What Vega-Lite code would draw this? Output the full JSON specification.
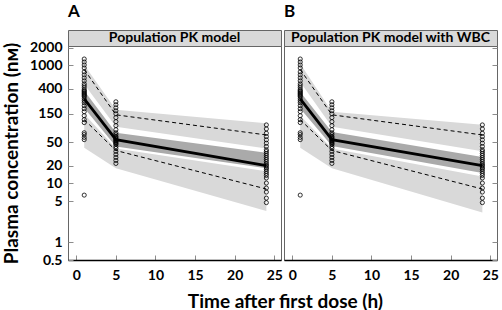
{
  "$schema": "https://vega.github.io/schema/vega-lite/v6.json",
  "padding": {"left": 2, "top": 2, "right": 0, "bottom": 0},
  "background": "#ffffff",
  "datasets": {
    "obs": [
      {"time": 1, "value": 1282}, {"time": 1, "value": 1140}, {"time": 1, "value": 1016}, {"time": 1, "value": 904},
      {"time": 1, "value": 774}, {"time": 1, "value": 689}, {"time": 1, "value": 613}, {"time": 1, "value": 546},
      {"time": 1, "value": 486}, {"time": 1, "value": 450}, {"time": 1, "value": 416}, {"time": 1, "value": 385},
      {"time": 1, "value": 370}, {"time": 1, "value": 356}, {"time": 1, "value": 342}, {"time": 1, "value": 330},
      {"time": 1, "value": 317}, {"time": 1, "value": 305}, {"time": 1, "value": 293}, {"time": 1, "value": 271},
      {"time": 1, "value": 251}, {"time": 1, "value": 232}, {"time": 1, "value": 207}, {"time": 1, "value": 184},
      {"time": 1, "value": 164}, {"time": 1, "value": 140}, {"time": 1, "value": 120}, {"time": 1, "value": 107},
      {"time": 1, "value": 72}, {"time": 1, "value": 67}, {"time": 1, "value": 60}, {"time": 1, "value": 55},
      {"time": 1, "value": 6.3},
      {"time": 5, "value": 241}, {"time": 5, "value": 215}, {"time": 5, "value": 191}, {"time": 5, "value": 170},
      {"time": 5, "value": 151}, {"time": 5, "value": 130}, {"time": 5, "value": 111}, {"time": 5, "value": 95},
      {"time": 5, "value": 81}, {"time": 5, "value": 72}, {"time": 5, "value": 67}, {"time": 5, "value": 62},
      {"time": 5, "value": 60}, {"time": 5, "value": 57}, {"time": 5, "value": 55}, {"time": 5, "value": 53},
      {"time": 5, "value": 51}, {"time": 5, "value": 49}, {"time": 5, "value": 47}, {"time": 5, "value": 45.5},
      {"time": 5, "value": 42}, {"time": 5, "value": 39}, {"time": 5, "value": 34.7}, {"time": 5, "value": 30.8},
      {"time": 5, "value": 27.4}, {"time": 5, "value": 24.4}, {"time": 5, "value": 21.7},
      {"time": 24, "value": 97.7}, {"time": 24, "value": 83.6}, {"time": 24, "value": 70.5}, {"time": 24, "value": 62},
      {"time": 24, "value": 54.6}, {"time": 24, "value": 47.9}, {"time": 24, "value": 42.1}, {"time": 24, "value": 37},
      {"time": 24, "value": 34.6}, {"time": 24, "value": 32}, {"time": 24, "value": 29.7}, {"time": 24, "value": 27.4},
      {"time": 24, "value": 25.4}, {"time": 24, "value": 23.5}, {"time": 24, "value": 21.7}, {"time": 24, "value": 20.5},
      {"time": 24, "value": 19.4}, {"time": 24, "value": 18.2}, {"time": 24, "value": 17.2}, {"time": 24, "value": 15.9},
      {"time": 24, "value": 14.7}, {"time": 24, "value": 13.6}, {"time": 24, "value": 12.3}, {"time": 24, "value": 10.1},
      {"time": 24, "value": 8.3}, {"time": 24, "value": 7.1}, {"time": 24, "value": 5.6}, {"time": 24, "value": 4.7}
    ],
    "pct": [
      {"stat": "p95", "time": 1, "value": 850}, {"stat": "p95", "time": 5, "value": 145}, {"stat": "p95", "time": 24, "value": 66},
      {"stat": "p50", "time": 1, "value": 270}, {"stat": "p50", "time": 5, "value": 55}, {"stat": "p50", "time": 24, "value": 20},
      {"stat": "p05", "time": 1, "value": 120}, {"stat": "p05", "time": 5, "value": 36}, {"stat": "p05", "time": 24, "value": 8}
    ],
    "bands": [
      {"panel": "A", "band": "upper", "time": 1, "value": 480, "hi": 1010},
      {"panel": "A", "band": "upper", "time": 5, "value": 91, "hi": 177},
      {"panel": "A", "band": "upper", "time": 24, "value": 39, "hi": 104},
      {"panel": "A", "band": "median", "time": 1, "value": 190, "hi": 370},
      {"panel": "A", "band": "median", "time": 5, "value": 42, "hi": 72},
      {"panel": "A", "band": "median", "time": 24, "value": 18, "hi": 33},
      {"panel": "A", "band": "lower", "time": 1, "value": 40, "hi": 150},
      {"panel": "A", "band": "lower", "time": 5, "value": 18, "hi": 39},
      {"panel": "A", "band": "lower", "time": 24, "value": 3.4, "hi": 16},
      {"panel": "B", "band": "upper", "time": 1, "value": 520, "hi": 1070},
      {"panel": "B", "band": "upper", "time": 5, "value": 91, "hi": 163},
      {"panel": "B", "band": "upper", "time": 24, "value": 35, "hi": 98},
      {"panel": "B", "band": "median", "time": 1, "value": 185, "hi": 355},
      {"panel": "B", "band": "median", "time": 5, "value": 43, "hi": 74},
      {"panel": "B", "band": "median", "time": 24, "value": 15, "hi": 28},
      {"panel": "B", "band": "lower", "time": 1, "value": 40, "hi": 140},
      {"panel": "B", "band": "lower", "time": 5, "value": 18, "hi": 39},
      {"panel": "B", "band": "lower", "time": 24, "value": 3.2, "hi": 13}
    ]
  },
  "title": {
    "text": "Time after first dose (h)",
    "orient": "bottom",
    "anchor": "middle",
    "fontSize": 19,
    "fontWeight": "bold",
    "font": "Lato",
    "color": "#000000",
    "offset": 10,
    "dx": 35
  },
  "spacing": 0,
  "hconcat": [
    {
      "spacing": 0,
      "bounds": "flush",
      "vconcat": [
        {
          "width": 213,
          "height": 16,
          "title": {"text": "A", "anchor": "start", "fontSize": 17, "fontWeight": "bold", "font": "Lato", "color": "#000000", "offset": 9},
          "view": {"fill": "#d9d9d9", "stroke": "#666666", "strokeWidth": 1},
          "data": {"values": [{"label": "Population PK model"}]},
          "mark": {"type": "text", "font": "Lato", "fontWeight": "bold", "fontSize": 14, "baseline": "middle", "color": "#000000"},
          "encoding": {"text": {"field": "label", "type": "nominal"}}
        },
        {
          "width": 213,
          "height": 214,
          "view": {"stroke": "#666666", "strokeWidth": 1},
          "encoding": {
            "x": {"field": "time", "type": "quantitative", "scale": {"domain": [-1.05, 25.85], "nice": false, "zero": false},
              "axis": {"values": [0, 5, 10, 15, 20, 25], "title": null, "domain": true, "domainColor": "#000000", "domainWidth": 1.5, "labelPadding": 13, "labelFlush": false}},
            "y": {"field": "value", "type": "quantitative", "stack": null, "scale": {"type": "log", "domain": [0.5, 2130], "nice": false},
              "axis": {"values": [0.5, 1, 5, 10, 20, 50, 150, 400, 1000, 2000], "format": "~g", "title": "Plasma concentration (nᴍ)", "labelPadding": 11, "titlePadding": 8}}
          },
          "layer": [
            {
              "data": {"name": "bands"},
              "transform": [{"filter": "datum.panel === 'A'"}],
              "mark": {"type": "area", "opacity": 1},
              "encoding": {
                "y2": {"field": "hi"},
                "color": {"field": "band", "type": "nominal", "scale": {"domain": ["upper", "median", "lower"], "range": ["#d9d9d9", "#aaaaaa", "#d9d9d9"]}, "legend": null}
              }
            },
            {
              "data": {"name": "pct"},
              "transform": [{"filter": "datum.stat !== 'p50'"}],
              "mark": {"type": "line", "color": "#000000", "strokeWidth": 1, "strokeDash": [4, 3]},
              "encoding": {"detail": {"field": "stat", "type": "nominal"}}
            },
            {
              "data": {"name": "pct"},
              "transform": [{"filter": "datum.stat === 'p50'"}],
              "mark": {"type": "line", "color": "#000000", "strokeWidth": 2.8},
              "encoding": {}
            },
            {
              "data": {"name": "obs"},
              "mark": {"type": "point", "shape": "circle", "filled": false, "color": "#000000", "size": 17, "strokeWidth": 0.8, "opacity": 1}
            }
          ]
        }
      ]
    },
    {
      "spacing": 0,
      "bounds": "flush",
      "vconcat": [
        {
          "width": 213,
          "height": 16,
          "title": {"text": "B", "anchor": "start", "fontSize": 17, "fontWeight": "bold", "font": "Lato", "color": "#000000", "offset": 9},
          "view": {"fill": "#d9d9d9", "stroke": "#666666", "strokeWidth": 1},
          "data": {"values": [{"label": "Population PK model with WBC"}]},
          "mark": {"type": "text", "font": "Lato", "fontWeight": "bold", "fontSize": 14, "baseline": "middle", "color": "#000000"},
          "encoding": {"text": {"field": "label", "type": "nominal"}}
        },
        {
          "width": 213,
          "height": 214,
          "view": {"stroke": "#666666", "strokeWidth": 1},
          "encoding": {
            "x": {"field": "time", "type": "quantitative", "scale": {"domain": [-1.05, 25.85], "nice": false, "zero": false},
              "axis": {"values": [0, 5, 10, 15, 20, 25], "title": null, "domain": true, "domainColor": "#000000", "domainWidth": 1.5, "labelPadding": 13, "labelFlush": false}},
            "y": {"field": "value", "type": "quantitative", "stack": null, "scale": {"type": "log", "domain": [0.5, 2130], "nice": false},
              "axis": {"orient": "right", "values": [0.5, 1, 5, 10, 20, 50, 150, 400, 1000, 2000], "labels": false, "title": null}}
          },
          "layer": [
            {
              "data": {"name": "bands"},
              "transform": [{"filter": "datum.panel === 'B'"}],
              "mark": {"type": "area", "opacity": 1},
              "encoding": {
                "y2": {"field": "hi"},
                "color": {"field": "band", "type": "nominal", "scale": {"domain": ["upper", "median", "lower"], "range": ["#d9d9d9", "#aaaaaa", "#d9d9d9"]}, "legend": null}
              }
            },
            {
              "data": {"name": "pct"},
              "transform": [{"filter": "datum.stat !== 'p50'"}],
              "mark": {"type": "line", "color": "#000000", "strokeWidth": 1, "strokeDash": [4, 3]},
              "encoding": {"detail": {"field": "stat", "type": "nominal"}}
            },
            {
              "data": {"name": "pct"},
              "transform": [{"filter": "datum.stat === 'p50'"}],
              "mark": {"type": "line", "color": "#000000", "strokeWidth": 2.8},
              "encoding": {}
            },
            {
              "data": {"name": "obs"},
              "mark": {"type": "point", "shape": "circle", "filled": false, "color": "#000000", "size": 17, "strokeWidth": 0.8, "opacity": 1}
            }
          ]
        }
      ]
    }
  ],
  "config": {
    "font": "Lato",
    "view": {"stroke": null},
    "axis": {
      "labelFont": "Lato",
      "labelFontWeight": "bold",
      "labelFontSize": 14,
      "labelColor": "#000000",
      "tickColor": "#8c8c8c",
      "tickSize": -5,
      "grid": false,
      "domain": false,
      "titleFont": "Lato",
      "titleFontWeight": "bold",
      "titleFontSize": 19,
      "titleColor": "#000000"
    }
  }
}
